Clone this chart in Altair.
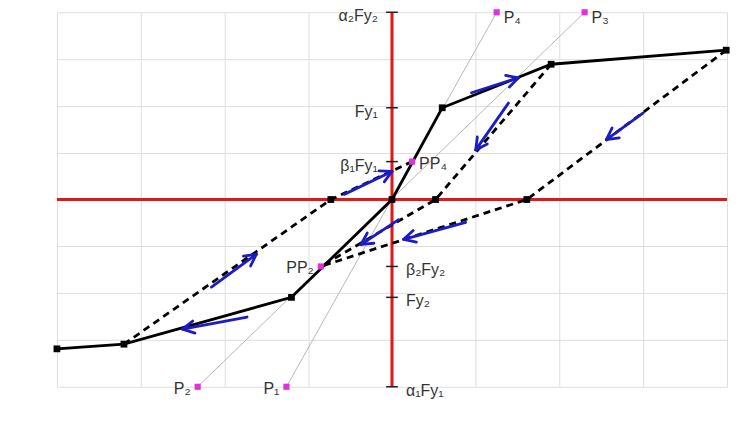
import altair as alt
import pandas as pd
import numpy as np

# ---- data (grid units, origin at the red cross) ----
backbone_x = [-4.0, -3.2, -1.2, 0.0, 0.6, 1.9, 3.99]
backbone_y = [-3.19, -3.09, -2.09, 0.0, 1.96, 2.89, 3.19]

dash_id = ["L", "L", "L", "A", "A", "A", "B", "B", "B"]
dash_x = [-3.2, -0.73, 0.24, 1.9, 0.52, -0.85, 3.99, 1.61, -0.85]
dash_y = [-3.09, 0.0, 0.81, 2.89, 0.0, -1.43, 3.19, 0.0, -1.43]

cross_x = [-0.73, 0.52, 1.61]
cross_y = [0.0, 0.0, 0.0]

ref_x0 = [-1.26, -2.32]
ref_y0 = [-4.0, -4.0]
ref_x1 = [1.25, 2.3]
ref_y1 = [4.0, 4.0]

pt_name = ["P\u2081", "P\u2082", "P\u2083", "P\u2084", "PP\u2082", "PP\u2084"]
pt_x = [-1.26, -2.32, 2.3, 1.25, -0.85, 0.24]
pt_y = [-4.0, -4.0, 4.0, 4.0, -1.43, 0.81]
pt_side = ["left", "left", "right", "right", "left", "right"]

tick_label = ["\u03b1\u2082Fy\u2082", "Fy\u2081", "\u03b2\u2081Fy\u2081",
              "\u03b2\u2082Fy\u2082", "Fy\u2082", "\u03b1\u2081Fy\u2081"]
tick_y = [4.0, 1.96, 0.81, -1.43, -2.09, -4.0]
tick_side = ["left", "left", "left", "right", "right", "right"]

arrow_x0 = [-2.155, -1.73, -0.57, 0.95, 1.39, 3.0, 0.08, 0.88]
arrow_y0 = [-1.87, -2.51, 0.11, 2.28, 2.06, 1.85, -0.43, -0.49]
arrow_x1 = [-1.62, -2.5, 0.0, 1.51, 1.0, 2.56, -0.37, 0.14]
arrow_y1 = [-1.17, -2.77, 0.6, 2.6, 1.06, 1.28, -0.96, -0.85]

grid_vals = [-4, -3, -2, -1, 0, 1, 2, 3, 4]

# ---- layout ----
W, H = 671, 375
SX, SY = W / 8.0, H / 8.0
HEAD, SPREAD = 13.0, np.radians(28)

xs = alt.Scale(domain=[-4, 4], nice=False, zero=False)
ys = alt.Scale(domain=[-4, 4], nice=False, zero=False)

# arrow shafts + open heads as segments
segs = []
for x0, y0, x1, y1 in zip(arrow_x0, arrow_y0, arrow_x1, arrow_y1):
    segs.append((x0, y0, x1, y1))
    ang = np.arctan2((y1 - y0) * SY, (x1 - x0) * SX)
    for s in (SPREAD, -SPREAD):
        wx = x1 - HEAD * np.cos(ang + s) / SX
        wy = y1 - HEAD * np.sin(ang + s) / SY
        segs.append((x1, y1, wx, wy))
arrows = pd.DataFrame(segs, columns=["x", "y", "x2", "y2"])

backbone = pd.DataFrame({"x": backbone_x, "y": backbone_y, "o": range(len(backbone_x))})
dashes = pd.DataFrame({"id": dash_id, "x": dash_x, "y": dash_y, "o": range(len(dash_x))})
crosses = pd.DataFrame({"x": cross_x, "y": cross_y})
refs = pd.DataFrame({"x": ref_x0, "y": ref_y0, "x2": ref_x1, "y2": ref_y1})
pts = pd.DataFrame({"name": pt_name, "x": pt_x, "y": pt_y, "side": pt_side})
ticks = pd.DataFrame({"label": tick_label, "y": tick_y, "side": tick_side})
axes_df = pd.DataFrame({"x": [-4.0, 0.0], "y": [0.0, -4.0], "x2": [4.0, 0.0], "y2": [0.0, 4.0]})

font = "Liberation Sans"
txt = "#333333"

grid_axis_x = alt.Axis(values=grid_vals, grid=True, labels=False, ticks=False, domain=False,
                       title=None, gridColor="#dedede", gridWidth=1)
grid_axis_y = alt.Axis(values=grid_vals, grid=True, labels=False, ticks=False, domain=False,
                       title=None, gridColor="#dedede", gridWidth=1)

ref_layer = alt.Chart(refs).mark_rule(color="#b8b8b8", strokeWidth=1).encode(
    x=alt.X("x:Q", scale=xs, axis=grid_axis_x),
    y=alt.Y("y:Q", scale=ys, axis=grid_axis_y),
    x2="x2:Q", y2="y2:Q")

red_layer = alt.Chart(axes_df).mark_rule(color="#e01818", strokeWidth=3).encode(
    x=alt.X("x:Q", scale=xs), y=alt.Y("y:Q", scale=ys), x2="x2:Q", y2="y2:Q")

tick_layer = alt.Chart(ticks).mark_rule(color="#222222", strokeWidth=1.5).encode(
    x=alt.datum(-0.07, scale=xs), x2=alt.datum(0.07), y=alt.Y("y:Q", scale=ys))

dash_layer = alt.Chart(dashes).mark_line(color="black", strokeWidth=2.8, strokeDash=[7, 5]).encode(
    x=alt.X("x:Q", scale=xs), y=alt.Y("y:Q", scale=ys), detail="id:N", order="o:Q")

back_layer = alt.Chart(backbone).mark_line(color="black", strokeWidth=2.8).encode(
    x=alt.X("x:Q", scale=xs), y=alt.Y("y:Q", scale=ys), order="o:Q")

back_pts = alt.Chart(backbone).mark_square(color="black", size=46, opacity=1).encode(
    x=alt.X("x:Q", scale=xs), y=alt.Y("y:Q", scale=ys))

cross_pts = alt.Chart(crosses).mark_square(color="black", size=46, opacity=1).encode(
    x=alt.X("x:Q", scale=xs), y=alt.Y("y:Q", scale=ys))

arrow_layer = alt.Chart(arrows).mark_rule(color="#1c1cc4", strokeWidth=2.8, strokeCap="round").encode(
    x=alt.X("x:Q", scale=xs), y=alt.Y("y:Q", scale=ys), x2="x2:Q", y2="y2:Q")

mag_pts = alt.Chart(pts).mark_square(color="#e030e0", size=38, opacity=1).encode(
    x=alt.X("x:Q", scale=xs), y=alt.Y("y:Q", scale=ys))

pt_lab_top = alt.Chart(pts).transform_filter(
    (alt.datum.side == "right") & (alt.datum.y >= 4)).mark_text(
    align="left", baseline="middle", dx=7, dy=6, font=font, fontSize=16, color=txt).encode(
    x=alt.X("x:Q", scale=xs), y=alt.Y("y:Q", scale=ys), text="name:N")

pt_lab_r = alt.Chart(pts).transform_filter(
    (alt.datum.side == "right") & (alt.datum.y < 4)).mark_text(
    align="left", baseline="middle", dx=7, dy=2, font=font, fontSize=16, color=txt).encode(
    x=alt.X("x:Q", scale=xs), y=alt.Y("y:Q", scale=ys), text="name:N")

pt_lab_l = alt.Chart(pts).transform_filter(alt.datum.side == "left").mark_text(
    align="right", baseline="middle", dx=-7, dy=2, font=font, fontSize=16, color=txt).encode(
    x=alt.X("x:Q", scale=xs), y=alt.Y("y:Q", scale=ys), text="name:N")

tk_lab_l = alt.Chart(ticks).transform_filter(alt.datum.side == "left").mark_text(
    align="right", baseline="middle", dx=-14, dy=4, font=font, fontSize=16, color=txt).encode(
    x=alt.datum(0, scale=xs), y=alt.Y("y:Q", scale=ys), text="label:N")

tk_lab_r = alt.Chart(ticks).transform_filter(alt.datum.side == "right").mark_text(
    align="left", baseline="middle", dx=14, dy=4, font=font, fontSize=16, color=txt).encode(
    x=alt.datum(0, scale=xs), y=alt.Y("y:Q", scale=ys), text="label:N")

bottom_band = alt.Chart(pd.DataFrame({"a": [0]})).mark_rule(color="#efefef", strokeWidth=3).encode(
    x=alt.value(-47), x2=alt.value(W + 20), y=alt.value(H + 36))

chart = alt.layer(
    ref_layer, red_layer, tick_layer, dash_layer, back_layer, back_pts, cross_pts,
    arrow_layer, mag_pts, pt_lab_top, pt_lab_r, pt_lab_l, tk_lab_l, tk_lab_r, bottom_band
).properties(
    width=W, height=H,
    padding={"left": 49, "top": 4, "right": 20, "bottom": 33},
    autosize=alt.AutoSizeParams(type="none"),
    background="white",
).configure_view(stroke=None)

chart.save("out.html", embed_options={"renderer": "svg", "actions": False})
